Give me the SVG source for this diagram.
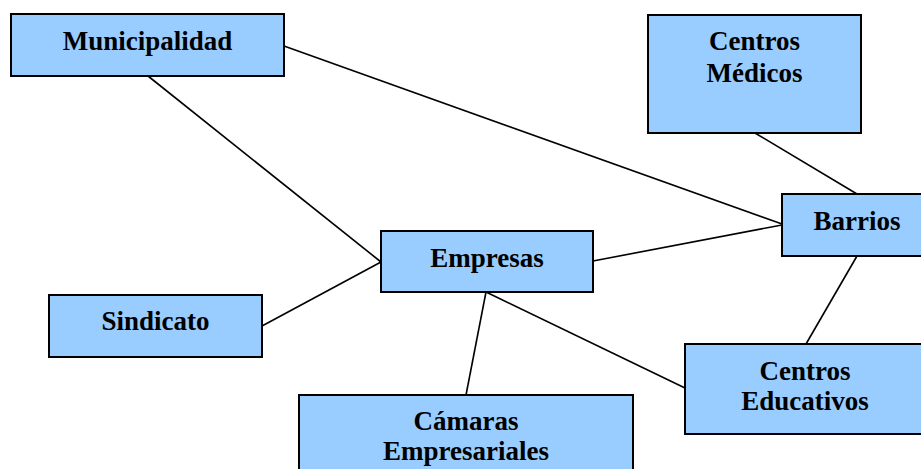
<svg xmlns="http://www.w3.org/2000/svg" width="921" height="469" viewBox="0 0 921 469">
<style>
.box{fill:#99CCFF;stroke:#000;stroke-width:2}
.lbl{font-family:"Liberation Serif","Times New Roman",serif;font-weight:bold;font-size:27px;fill:#000;text-anchor:middle}
.edge{stroke:#000;stroke-width:1.6;fill:none}
</style>
<rect width="921" height="469" fill="#fff"/>
<g id="connectors">
<line class="edge" x1="284" y1="46" x2="782" y2="224"/>
<line class="edge" x1="148" y1="76" x2="381" y2="262"/>
<line class="edge" x1="262" y1="326" x2="381" y2="262"/>
<line class="edge" x1="593" y1="261" x2="782" y2="225"/>
<line class="edge" x1="755" y1="133" x2="857" y2="194"/>
<line class="edge" x1="857" y1="256" x2="806" y2="344"/>
<line class="edge" x1="486" y1="292" x2="466" y2="395"/>
<line class="edge" x1="486" y1="292" x2="685" y2="388"/>
</g>
<g id="municipalidad">
<rect class="box" x="11" y="14" width="273" height="62"/>
<text class="lbl" x="147.5" y="50">Municipalidad</text>
</g>
<g id="centros-medicos">
<rect class="box" x="648" y="15" width="213" height="118"/>
<text class="lbl" x="754.5" y="50">Centros</text>
<text class="lbl" x="754.5" y="82">Médicos</text>
</g>
<g id="empresas">
<rect class="box" x="381" y="231" width="212" height="61"/>
<text class="lbl" x="487" y="267">Empresas</text>
</g>
<g id="barrios">
<rect class="box" x="782" y="194" width="150" height="62"/>
<text class="lbl" x="857" y="230">Barrios</text>
</g>
<g id="sindicato">
<rect class="box" x="49" y="295" width="213" height="62"/>
<text class="lbl" x="155.5" y="330">Sindicato</text>
</g>
<g id="camaras-empresariales">
<rect class="box" x="299" y="395" width="334" height="90"/>
<text class="lbl" x="466" y="430">Cámaras</text>
<text class="lbl" x="466" y="460">Empresariales</text>
</g>
<g id="centros-educativos">
<rect class="box" x="685" y="344" width="240" height="90"/>
<text class="lbl" x="805" y="380">Centros</text>
<text class="lbl" x="805" y="410">Educativos</text>
</g>
</svg>
